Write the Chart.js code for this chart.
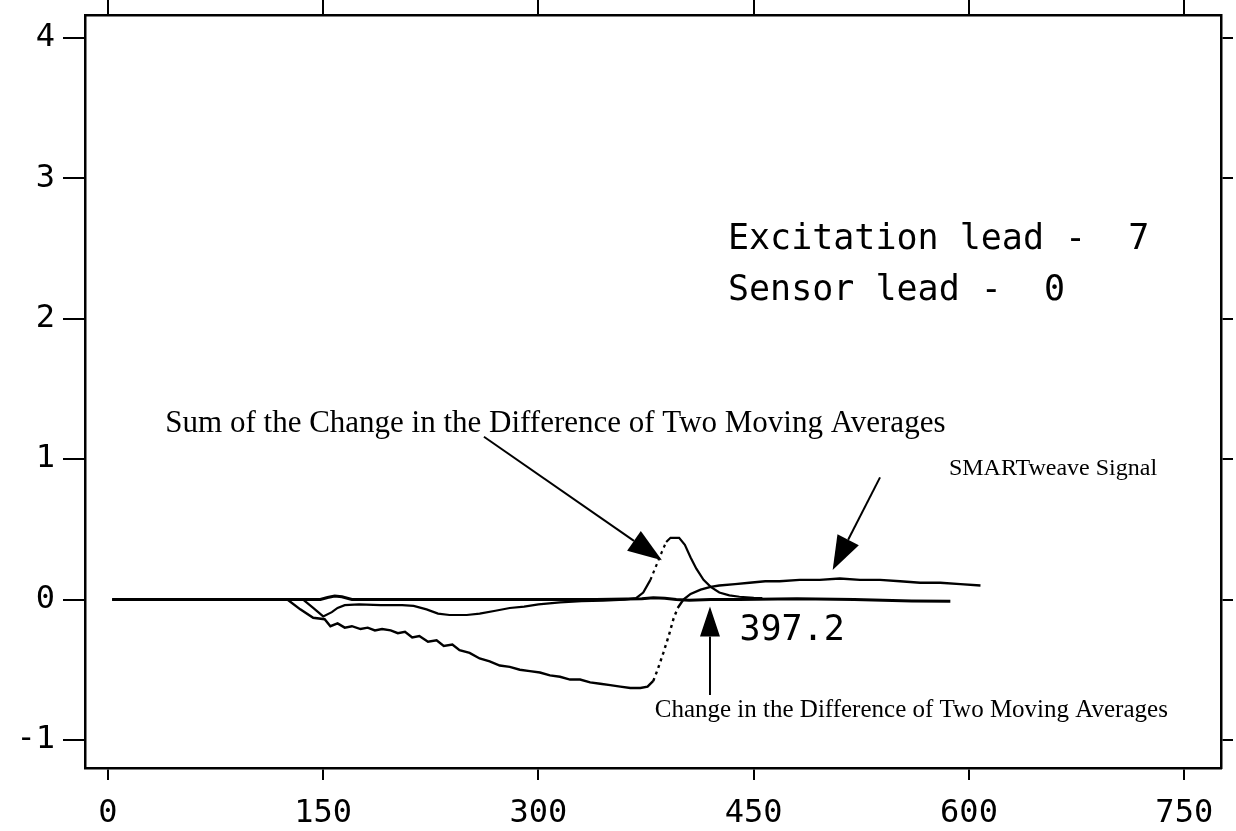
<!DOCTYPE html>
<html>
<head>
<meta charset="utf-8">
<script src="https://cdn.jsdelivr.net/npm/chart.js@4.4.0/dist/chart.umd.min.js"></script>
<style>
  html, body { margin: 0; padding: 0; background: #fff; }
  #wrap { width: 1236px; height: 831px; }
</style>
</head>
<body>
<div id="wrap"><canvas id="c" width="1236" height="831"></canvas></div>
<script>
// ---- data ----
const xTicks = [0, 150, 300, 450, 600, 750];
const yTicks = [-1, 0, 1, 2, 3, 4];

// Change in the Difference of Two Moving Averages (near-zero baseline)
const changeX = [3, 100, 148, 153, 158, 163, 170, 200, 250, 300, 340, 372, 380, 388, 396, 405, 420, 440, 480, 520, 560, 587];
const changeY = [0, 0, 0, 0.015, 0.025, 0.02, 0, 0, 0, 0, 0, 0.005, 0.012, 0.01, 0, -0.005, 0, 0, 0.005, 0, -0.01, -0.012];

// SMARTweave Signal
const signalX = [3, 125, 134, 143, 151, 155, 160, 165, 170, 176, 181, 186, 191, 197, 202, 207, 212, 217, 223, 229, 234, 240, 245, 252, 259, 266, 273, 280, 287, 294, 301, 308, 315, 322, 329, 336, 343, 350, 357, 364, 371, 376, 380, 383, 387, 391, 394, 397, 401, 406, 413, 420, 426, 437, 447, 458, 468, 482, 496, 510, 524, 538, 552, 566, 580, 594, 608];
const signalY = [0, 0, -0.07, -0.13, -0.14, -0.19, -0.17, -0.2, -0.19, -0.21, -0.2, -0.22, -0.21, -0.22, -0.24, -0.23, -0.27, -0.26, -0.3, -0.29, -0.33, -0.32, -0.36, -0.38, -0.42, -0.44, -0.47, -0.48, -0.5, -0.51, -0.52, -0.54, -0.55, -0.57, -0.57, -0.59, -0.6, -0.61, -0.62, -0.63, -0.63, -0.62, -0.58, -0.5, -0.38, -0.25, -0.14, -0.06, 0, 0.04, 0.07, 0.09, 0.1, 0.11, 0.12, 0.13, 0.13, 0.14, 0.14, 0.15, 0.14, 0.14, 0.13, 0.12, 0.12, 0.11, 0.1];

// Sum of the Change in the Difference of Two Moving Averages
const sumX = [3, 136, 143, 150, 156, 160, 165, 175, 190, 205, 213, 222, 230, 238, 250, 259, 270, 280, 290, 300, 315, 330, 345, 360, 368, 373, 378, 382, 386, 389, 392, 398, 402, 406, 410, 415, 420, 426, 433, 440, 450, 456];
const sumY = [0, 0, -0.06, -0.12, -0.09, -0.06, -0.04, -0.035, -0.04, -0.04, -0.045, -0.07, -0.1, -0.11, -0.11, -0.1, -0.08, -0.06, -0.05, -0.035, -0.02, -0.012, -0.008, 0, 0.01, 0.05, 0.14, 0.24, 0.34, 0.41, 0.44, 0.44, 0.39, 0.3, 0.22, 0.14, 0.09, 0.05, 0.03, 0.02, 0.012, 0.01];

const toPts = (xs, ys) => xs.map((x, i) => ({ x: x, y: ys[i] }));

const MONO = '"DejaVu Sans Mono", monospace';
const SERIF = '"Liberation Serif", "DejaVu Serif", serif';

// steep rising segments were plotted as dotted traces
const steepDash = ctx => {
  const dx = Math.abs(ctx.p1.x - ctx.p0.x);
  const dy = ctx.p0.y - ctx.p1.y;
  return (dy > 2.1 * dx) ? [3, 4] : undefined;
};

const whiteBg = {
  id: 'whiteBg',
  beforeDraw(chart) {
    const c = chart.ctx;
    c.save();
    c.fillStyle = '#fff';
    c.fillRect(0, 0, chart.width, chart.height);
    c.restore();
  }
};

function arrow(c, x0, y0, x1, y1, headLen, headW) {
  const ang = Math.atan2(y1 - y0, x1 - x0);
  const bx = x1 - headLen * Math.cos(ang), by = y1 - headLen * Math.sin(ang);
  c.beginPath();
  c.moveTo(x0, y0);
  c.lineTo(bx, by);
  c.stroke();
  c.beginPath();
  c.moveTo(x1, y1);
  c.lineTo(bx + headW / 2 * Math.sin(ang), by - headW / 2 * Math.cos(ang));
  c.lineTo(bx - headW / 2 * Math.sin(ang), by + headW / 2 * Math.cos(ang));
  c.closePath();
  c.fill();
}

const notes = {
  id: 'notes',
  afterDraw(chart) {
    const c = chart.ctx;
    const xs = chart.scales.x, ys = chart.scales.y;
    const P = (x, y) => [xs.getPixelForValue(x), ys.getPixelForValue(y)];
    c.save();
    c.fillStyle = '#000';
    c.strokeStyle = '#000';
    c.textBaseline = 'middle';
    c.textAlign = 'left';

    c.font = '35px ' + MONO;
    let p = P(432, 2.56); c.fillText('Excitation lead -  7', p[0], p[1]);
    p = P(432, 2.2); c.fillText('Sensor lead -  0', p[0], p[1]);
    p = P(440, -0.22); c.fillText('397.2', p[0], p[1]);

    c.font = '31px ' + SERIF;
    p = P(40, 1.25); c.fillText('Sum of the Change in the Difference of Two Moving Averages', p[0], p[1]);
    c.font = '24px ' + SERIF;
    p = P(586, 0.93); c.fillText('SMARTweave Signal', p[0], p[1]);
    c.font = '25px ' + SERIF;
    p = P(381, -0.79); c.fillText('Change in the Difference of Two Moving Averages', p[0], p[1]);

    c.lineWidth = 2;
    let a = P(262, 1.16), b = P(386, 0.28);
    arrow(c, a[0], a[1], b[0], b[1], 34, 24);
    a = P(538, 0.87); b = P(505, 0.21);
    arrow(c, a[0], a[1], b[0], b[1], 34, 24);
    a = P(419.5, -0.68); b = P(419.5, -0.05);
    arrow(c, a[0], a[1], b[0], b[1], 30, 20);
    c.restore();
  }
};

const fixedTicks = vals => scale => { scale.ticks = vals.map(v => ({ value: v })); };
const noPad = s => { s.paddingTop = 0; s.paddingBottom = 0; s.paddingLeft = 0; s.paddingRight = 0; };
const gridCfg = len => ({ drawOnChartArea: false, drawTicks: true, tickLength: len, color: '#000', lineWidth: 2 });
const borderCfg = { display: true, color: '#000', width: 2.5 };

const lineDs = (label, pts, width) => ({
  label: label,
  data: pts,
  borderColor: '#000',
  backgroundColor: '#000',
  borderWidth: width,
  pointRadius: 0,
  tension: 0,
  fill: false,
  xAxisID: 'x',
  yAxisID: 'y',
  segment: { borderDash: steepDash }
});

new Chart(document.getElementById('c'), {
  type: 'line',
  data: {
    datasets: [
      lineDs('Change in the Difference of Two Moving Averages', toPts(changeX, changeY), 3),
      lineDs('SMARTweave Signal', toPts(signalX, signalY), 2.4),
      lineDs('Sum of the Change in the Difference of Two Moving Averages', toPts(sumX, sumY), 2.2)
    ]
  },
  options: {
    responsive: false,
    animation: false,
    events: [],
    layout: { padding: 0 },
    plugins: { legend: { display: false }, tooltip: { enabled: false }, title: { display: false } },
    scales: {
      x: {
        type: 'linear', position: 'bottom', min: -16, max: 775.6,
        afterBuildTicks: fixedTicks(xTicks),
        afterFit: s => { s.height = 63; noPad(s); },
        grid: gridCfg(12), border: borderCfg,
        ticks: { color: '#000', font: { family: MONO, size: 32 }, padding: 14, maxRotation: 0, autoSkip: false }
      },
      x2: {
        type: 'linear', position: 'top', min: -16, max: 775.6,
        afterBuildTicks: fixedTicks(xTicks),
        afterFit: s => { s.height = 15; noPad(s); },
        grid: gridCfg(15), border: borderCfg,
        ticks: { display: false }
      },
      y: {
        type: 'linear', position: 'left', min: -1.2, max: 4.164,
        afterBuildTicks: fixedTicks(yTicks),
        afterFit: s => { s.width = 85; noPad(s); },
        grid: gridCfg(22), border: borderCfg,
        ticks: { color: '#000', font: { family: MONO, size: 32 }, padding: 8, autoSkip: false }
      },
      y2: {
        type: 'linear', position: 'right', min: -1.2, max: 4.164,
        afterBuildTicks: fixedTicks(yTicks),
        afterFit: s => { s.width = 15; noPad(s); },
        grid: gridCfg(12), border: borderCfg,
        ticks: { display: false }
      }
    }
  },
  plugins: [whiteBg, notes]
});
</script>
</body>
</html>
